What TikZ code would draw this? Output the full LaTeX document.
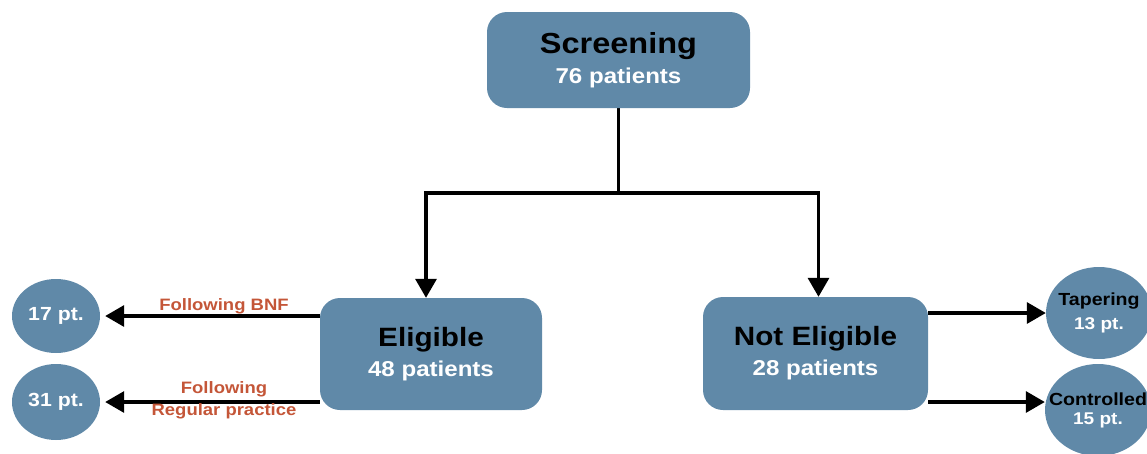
\documentclass[tikz,border=0pt]{standalone}
\usepackage{fontspec}
\setmainfont{Liberation Sans}[FakeStretch=1.12]
\usetikzlibrary{arrows.meta,shapes.geometric,backgrounds}
\definecolor{boxblue}{RGB}{96,137,168}
\definecolor{lblred}{RGB}{196,86,56}
\begin{document}
\begin{tikzpicture}[x=1pt,y=-1pt,
  box/.style={draw=none,fill=boxblue,rounded corners=20pt,inner sep=0pt,align=center,font=\bfseries},
  oval/.style={ellipse,draw=none,fill=boxblue,inner sep=0pt,align=center,font=\bfseries},
  conn/.style={line width=3.3pt,-{Triangle[length=19pt,width=21pt]}},
  plain/.style={line width=3.3pt},
  lbl/.style={text=lblred,font=\bfseries\fontsize{16.5}{18}\selectfont,inner sep=0pt,align=center}]
\useasboundingbox (0,0) rectangle (1147,453);
\clip (0,0) rectangle (1147,453);

\node[box,minimum width=263pt,minimum height=96pt] (scr) at (618.5,60)
  {{\fontsize{29}{30}\selectfont Screening}\\[7pt]{\color{white}\fontsize{21.5}{22}\selectfont 76 patients}};
\node[box,minimum width=222pt,minimum height=112pt] (elig) at (431,354)
  {{\fontsize{26.5}{28}\selectfont Eligible}\\[8pt]{\color{white}\fontsize{21.5}{22}\selectfont 48 patients}};
\node[box,minimum width=225pt,minimum height=113pt] (nelig) at (815.5,353.5)
  {{\fontsize{26.5}{28}\selectfont Not Eligible}\\[8pt]{\color{white}\fontsize{21.5}{22}\selectfont 28 patients}};

\node[oval,minimum width=88pt,minimum height=74pt,text=white,font=\bfseries\fontsize{19}{20}\selectfont] (c17) at (56,316) {17 pt.};
\node[oval,minimum width=88pt,minimum height=76pt,text=white,font=\bfseries\fontsize{19}{20}\selectfont] (c31) at (56,402) {31 pt.};
\node[oval,inner xsep=-25pt,minimum width=106pt,minimum height=92pt] (tap) at (1099,313)
  {{\fontsize{17.5}{19}\selectfont Tapering}\\[7pt]{\color{white}\fontsize{17}{19}\selectfont 13 pt.}};
\node[oval,inner xsep=-25pt,minimum width=106pt,minimum height=92pt] (ctl) at (1098,410)
  {{\fontsize{17.5}{19}\selectfont Controlled}\\[7pt]{\color{white}\fontsize{17}{19}\selectfont 15 pt.}};

\coordinate (split) at (scr.south |- 0,193);

\begin{scope}[on background layer]
\draw[plain] (scr.south) -- (split);
\draw[conn] (split) -| ([xshift=-5pt]elig.north);
\draw[conn] (split) -| ([xshift=3pt]nelig.north);
\draw[conn,shorten >=5pt] (elig.west |- c17.east) -- (c17.east);
\draw[conn,shorten >=5pt] (elig.west |- c31.east) -- (c31.east);
\draw[conn] (nelig.east |- tap.west) -- (tap.west);
\draw[conn] (nelig.east |- 0,402) -- ([yshift=8pt]ctl.west);
\end{scope}

\node[lbl] (lbnf) at (224,306) {Following BNF};
\node[lbl] (lfol) at (224,389) {Following};
\node[lbl] (lreg) at (224,411) {Regular practice};
\end{tikzpicture}
\end{document}
